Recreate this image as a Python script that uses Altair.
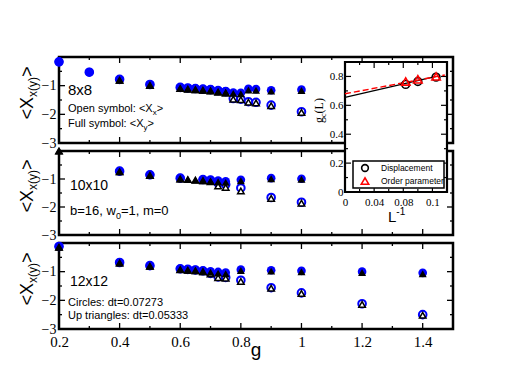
import altair as alt
import pandas as pd

# ---------------- data ----------------
# panel 1 : 8x8
P1_G_CIRC = [0.2, 0.3, 0.4, 0.5, 0.6, 0.625, 0.65, 0.675, 0.7, 0.725, 0.75, 0.775, 0.8, 0.825, 0.85, 0.9, 1.0]
P1_CIRC_FULL = [-0.17, -0.53, -0.78, -0.96, -1.06, -1.08, -1.10, -1.12, -1.14, -1.17, -1.19, -1.24, -1.25, -1.11, -1.12, -1.16, -1.14]
P1_CIRC_OPEN = [-0.17, -0.53, -0.78, -0.96, -1.06, -1.08, -1.10, -1.12, -1.14, -1.17, -1.21, -1.45, -1.47, -1.56, -1.58, -1.68, -1.91]
P1_G_TRI = [0.4, 0.5, 0.6, 0.625, 0.65, 0.675, 0.7, 0.725, 0.75, 0.775, 0.8, 0.825, 0.85, 0.9, 1.0]
P1_TRI_FULL = [-0.81, -0.99, -1.10, -1.12, -1.14, -1.16, -1.18, -1.21, -1.24, -1.27, -1.28, -1.15, -1.16, -1.19, -1.17]
P1_TRI_OPEN = [-0.81, -0.99, -1.10, -1.12, -1.14, -1.16, -1.18, -1.23, -1.26, -1.47, -1.49, -1.58, -1.60, -1.70, -1.93]
# panel 2 : 10x10
P2_G_CIRC = [0.4, 0.5, 0.6, 0.675, 0.7, 0.725, 0.75, 0.8, 0.9, 1.0]
P2_CIRC_FULL = [-0.72, -0.85, -0.97, -1.02, -1.04, -1.06, -1.08, -1.03, -0.97, -0.99]
P2_CIRC_OPEN = [-0.72, -0.85, -0.97, -1.02, -1.04, -1.15, -1.20, -1.32, -1.66, -1.83]
P2_G_TRI = [0.2, 0.4, 0.5, 0.6, 0.625, 0.65, 0.675, 0.7, 0.725, 0.75, 0.8, 0.9, 1.0]
P2_TRI_FULL = [0.0, -0.74, -0.87, -1.00, -1.02, -1.04, -1.06, -1.08, -1.10, -1.12, -1.06, -0.99, -1.01]
P2_TRI_OPEN = [0.0, -0.74, -0.87, -1.00, -1.02, -1.04, -1.06, -1.10, -1.25, -1.30, -1.43, -1.69, -1.86]
# panel 3 : 12x12
P3_G = [0.2, 0.4, 0.5, 0.6, 0.625, 0.65, 0.675, 0.7, 0.725, 0.75, 0.8, 0.9, 1.0, 1.2, 1.4]
P3_CIRC_FULL = [-0.12, -0.68, -0.79, -0.90, -0.92, -0.94, -0.97, -0.99, -1.01, -1.03, -0.93, -0.95, -0.97, -1.00, -1.04]
P3_CIRC_OPEN = [-0.12, -0.68, -0.79, -0.90, -0.92, -0.94, -0.97, -1.06, -1.18, -1.20, -1.30, -1.56, -1.74, -2.12, -2.50]
P3_TRI_FULL = [-0.15, -0.70, -0.81, -0.93, -0.95, -0.97, -1.00, -1.02, -1.05, -1.07, -0.96, -0.98, -1.00, -1.03, -1.07]
P3_TRI_OPEN = [-0.15, -0.70, -0.81, -0.93, -0.95, -0.97, -1.00, -1.08, -1.21, -1.23, -1.34, -1.58, -1.76, -2.14, -2.52]
# inset : g_c(L) versus 1/L
INV_L = [0.0833, 0.1, 0.125]
GC_DISP = [0.745, 0.765, 0.795]
GC_ORDER = [0.765, 0.78, 0.80]
FIT_DISP_X = [0.0, 0.125]
FIT_DISP_Y = [0.655, 0.80]
FIT_ORDER_X = [0.0, 0.137]
FIT_ORDER_Y = [0.68, 0.81]

# tick values
X_MAJOR = [0.2, 0.4, 0.6, 0.8, 1.0, 1.2, 1.4]
X_MINOR = [0.3, 0.5, 0.7, 0.9, 1.1, 1.3]
Y_MAJOR = [-3, -2, -1]
Y_MINOR = [-2.5, -1.5, -0.5]
IX_MAJOR = [0, 0.04, 0.08, 0.12]
IX_MINOR = [0.02, 0.06, 0.10]
IY_MAJOR = [0, 0.2, 0.4, 0.6, 0.8]
IY_MINOR = [0.1, 0.3, 0.5, 0.7]

# ---------------- layout / style ----------------
W, H = 394, 272
PANELS = [(0, 86), (94, 178), (186, 272)]
X_DOMAIN = [0.2, 1.5]
Y_DOMAIN = [-3, 0]
IL, IR, IT, IB = 286, 388, 5, 135
SANS = "Liberation Sans"
SERIF = "Liberation Serif"
BLUE = "#0000ff"
ONE = pd.DataFrame({"k": [0]})

HELV = {" ": 278, "(": 333, ")": 333, ",": 278, "-": 333, ".": 278, ":": 278, "<": 584, "=": 584,
        ">": 584, "C": 722, "F": 611, "L": 556, "O": 778, "U": 722, "X": 667, "a": 556, "b": 556,
        "c": 500, "d": 556, "e": 556, "g": 556, "i": 222, "l": 222, "m": 833, "n": 556, "o": 556,
        "p": 556, "r": 333, "s": 500, "t": 278, "u": 556, "w": 722, "x": 500, "y": 500}
TIMES = {"g": 500, "c": 444, "(": 333, ")": 333, "L": 611}


def width(text, size, font):
    table = TIMES if font == SERIF else HELV
    return sum(table.get(ch, 556) for ch in text) * size / 1000.0


def rich(pieces, x0, y0, font=SANS, angle=0):
    out = []
    pos = 0.0
    for text, size, shift in pieces:
        if angle == 0:
            x, y = x0 + pos, y0 + shift
        else:
            x, y = x0 + shift, y0 - pos
        out.append(alt.Chart(ONE).mark_text(text=text, font=font, fontSize=size, align="left",
                                            baseline="alphabetic", angle=angle, color="black")
                   .encode(x=alt.value(x), y=alt.value(y)))
        pos += width(text, size, font)
    return out


def xenc(field, show):
    scale = alt.Scale(domain=X_DOMAIN, nice=False, zero=False)
    if show:
        ax = alt.Axis(values=X_MAJOR, format="~g", orient="bottom", labelFont=SERIF, labelFontSize=15,
                      labelPadding=5, labelFlush=False, labelOverlap=False, ticks=False, tickSize=0,
                      domain=False, grid=False, title=None, labelColor="black")
        return alt.X(f"{field}:Q", scale=scale, axis=ax)
    return alt.X(f"{field}:Q", scale=scale, axis=None)


def yenc(field, top, bottom):
    scale = alt.Scale(domain=Y_DOMAIN, range=[bottom, top], nice=False, zero=False)
    ax = alt.Axis(values=Y_MAJOR, format="~g", orient="left", labelFont=SERIF, labelFontSize=14,
                  labelPadding=3, labelOverlap=False, ticks=False, tickSize=0, domain=False,
                  grid=False, title=None, labelColor="black")
    return alt.Y(f"{field}:Q", scale=scale, axis=ax)


STYLE = {
    "circ_open": dict(shape="circle", filled=True, fill="white", stroke=BLUE, strokeWidth=2, size=58),
    "circ_full": dict(shape="circle", filled=True, fill=BLUE, size=75),
    "tri_open": dict(shape="triangle-up", filled=True, fill="white", stroke="black", strokeWidth=1.5, size=42),
    "tri_full": dict(shape="triangle-up", filled=True, fill="black", size=64),
}


def panel(gc, cf, co, gt, tf, to, top, bottom, show_x):
    series = (("circ_open", gc, co), ("circ_full", gc, cf), ("tri_open", gt, to), ("tri_full", gt, tf))
    marks = []
    for name, gs, vs in series:
        df = pd.DataFrame({"g": gs, "v": vs})
        marks.append(alt.Chart(df).mark_point(opacity=1, **STYLE[name])
                     .encode(x=xenc("g", show_x), y=yenc("v", top, bottom)))
    frame = (alt.Chart(ONE).mark_rect(fill="white", fillOpacity=0, stroke="black", strokeWidth=2.5)
             .encode(x=alt.value(0), x2=alt.value(W), y=alt.value(top), y2=alt.value(bottom)))
    ticks = []
    for vals, ln in ((X_MAJOR, 6), (X_MINOR, 3)):
        b = alt.Chart(pd.DataFrame({"t": vals})).mark_rule(color="black", strokeWidth=1.3)
        ticks.append(b.encode(x=xenc("t", show_x), y=alt.value(bottom), y2=alt.value(bottom - ln)))
        ticks.append(b.encode(x=xenc("t", show_x), y=alt.value(top), y2=alt.value(top + ln)))
    for vals, ln in ((Y_MAJOR, 6), (Y_MINOR, 3)):
        b = alt.Chart(pd.DataFrame({"t": vals})).mark_rule(color="black", strokeWidth=1.3)
        ticks.append(b.encode(y=yenc("t", top, bottom), x=alt.value(0), x2=alt.value(ln)))
        ticks.append(b.encode(y=yenc("t", top, bottom), x=alt.value(W), x2=alt.value(W - ln)))
    return alt.layer(frame, *ticks, *marks)


p1 = panel(P1_G_CIRC, P1_CIRC_FULL, P1_CIRC_OPEN, P1_G_TRI, P1_TRI_FULL, P1_TRI_OPEN, *PANELS[0], False)
p2 = panel(P2_G_CIRC, P2_CIRC_FULL, P2_CIRC_OPEN, P2_G_TRI, P2_TRI_FULL, P2_TRI_OPEN, *PANELS[1], False)
p3 = panel(P3_G, P3_CIRC_FULL, P3_CIRC_OPEN, P3_G, P3_TRI_FULL, P3_TRI_OPEN, *PANELS[2], True)


# ---------------- inset ----------------
def ix(field):
    scale = alt.Scale(domain=[0, 0.14], range=[IL, IR], nice=False, zero=False)
    ax = alt.Axis(values=IX_MAJOR, format="~g", orient="bottom", offset=-(H - IB), labelFont=SERIF,
                  labelFontSize=11, labelPadding=4, labelFlush=False, labelOverlap=False,
                  labelBound=False, ticks=False, tickSize=0, domain=False, grid=False, title=None,
                  labelColor="black")
    return alt.X(f"{field}:Q", scale=scale, axis=ax)


def iy(field):
    scale = alt.Scale(domain=[0, 0.9], range=[IB, IT], nice=False, zero=False)
    ax = alt.Axis(values=IY_MAJOR, format="~g", orient="left", offset=-IL, labelFont=SERIF,
                  labelFontSize=11, labelPadding=2, labelOverlap=False, ticks=False, tickSize=0,
                  domain=False, grid=False, title=None, labelColor="black")
    return alt.Y(f"{field}:Q", scale=scale, axis=ax)


inset_layers = [alt.Chart(ONE).mark_rect(fill="white", stroke="black", strokeWidth=2.2)
                .encode(x=alt.value(IL), x2=alt.value(IR), y=alt.value(IT), y2=alt.value(IB))]
for vals, ln in ((IX_MAJOR, 6), (IX_MINOR, 3)):
    b = alt.Chart(pd.DataFrame({"t": vals})).mark_rule(color="black", strokeWidth=1.2)
    inset_layers.append(b.encode(x=ix("t"), y=alt.value(IB), y2=alt.value(IB - ln)))
    inset_layers.append(b.encode(x=ix("t"), y=alt.value(IT), y2=alt.value(IT + ln)))
for vals, ln in ((IY_MAJOR, 6), (IY_MINOR, 3)):
    b = alt.Chart(pd.DataFrame({"t": vals})).mark_rule(color="black", strokeWidth=1.2)
    inset_layers.append(b.encode(y=iy("t"), x=alt.value(IL), x2=alt.value(IL + ln)))
    inset_layers.append(b.encode(y=iy("t"), x=alt.value(IR), x2=alt.value(IR - ln)))

inset_layers.append(alt.Chart(pd.DataFrame({"lx": FIT_DISP_X, "gy": FIT_DISP_Y}))
                    .mark_line(color="black", strokeWidth=1.2)
                    .encode(x=ix("lx"), y=iy("gy")))
inset_layers.append(alt.Chart(pd.DataFrame({"lx": FIT_ORDER_X, "gy": FIT_ORDER_Y}))
                    .mark_line(color="red", strokeWidth=1.4, strokeDash=[6, 3])
                    .encode(x=ix("lx"), y=iy("gy")))
inset_layers.append(alt.Chart(pd.DataFrame({"lx": INV_L, "gy": GC_DISP}))
                    .mark_point(shape="circle", filled=False, stroke="black", strokeWidth=1.6, size=60, opacity=1)
                    .encode(x=ix("lx"), y=iy("gy")))
inset_layers.append(alt.Chart(pd.DataFrame({"lx": INV_L, "gy": GC_ORDER}))
                    .mark_point(shape="triangle-up", filled=False, stroke="red", strokeWidth=1.6, size=70, opacity=1)
                    .encode(x=ix("lx"), y=iy("gy")))

# inset legend
inset_layers.append(alt.Chart(ONE).mark_rect(fill="white", stroke="black", strokeWidth=1.5)
                    .encode(x=alt.value(294), x2=alt.value(385), y=alt.value(104), y2=alt.value(131)))
inset_layers.append(alt.Chart(ONE).mark_point(shape="circle", filled=False, stroke="black", strokeWidth=1.6, size=45, opacity=1)
                    .encode(x=alt.value(306), y=alt.value(111)))
inset_layers.append(alt.Chart(ONE).mark_point(shape="triangle-up", filled=False, stroke="red", strokeWidth=1.6, size=55, opacity=1)
                    .encode(x=alt.value(306), y=alt.value(124)))
inset_layers.append(alt.Chart(ONE).mark_text(text="Displacement", font=SANS, fontSize=8.5, align="left", baseline="middle", color="black")
                    .encode(x=alt.value(322), y=alt.value(111)))
inset_layers.append(alt.Chart(ONE).mark_text(text="Order parameter", font=SANS, fontSize=8.5, align="left", baseline="middle", color="black")
                    .encode(x=alt.value(322), y=alt.value(124)))
inset = alt.layer(*inset_layers)

# ---------------- texts ----------------
texts = []
for top, bottom in PANELS:
    pieces = [("<X", 18, 0), ("x(y)", 12, 4), (">", 18, 0)]
    total = sum(width(t, s, SANS) for t, s, _ in pieces)
    center = (top + bottom) / 2 - 7
    texts += rich(pieces, -26, center + total / 2, SANS, 270)

texts += rich([("8x8", 15, 0)], 9, 37.5)
texts += rich([("Open symbol: <X", 11, 0), ("x", 8, 3), (">", 11, 0)], 9, 55)
texts += rich([("Full symbol: <X", 11, 0), ("y", 8, 3), (">", 11, 0)], 9, 70)
texts += rich([("10x10", 14, 0)], 11, 133)
texts += rich([("b=16, w", 13, 0), ("0", 9, 4), ("=1, m=0", 13, 0)], 11, 158)
texts += rich([("12x12", 14, 0)], 11, 229)
texts += rich([("Circles: dt=0.07273", 11, 0)], 9, 249)
texts += rich([("Up triangles: dt=0.05333", 11, 0)], 9, 262)
texts += rich([("g", 19, 0)], 197 - width("g", 19, SANS) / 2, 299)
texts += rich([("g", 12, 0), ("c", 8, 3), ("(L)", 12, 0)], 264, 66, SERIF, 270)
texts += rich([("L", 15, 0), ("-1", 10, -7)], 329, 165)

chart = (
    alt.layer(p1, p2, p3, inset, *texts)
    .resolve_scale(x="independent", y="independent")
    .properties(width=W, height=H,
                padding={"left": 51, "top": 49, "right": 45, "bottom": 45},
                autosize=alt.AutoSizeParams(type="none"))
    .configure_view(strokeOpacity=0)
)

chart.save("out.html", embed_options={"renderer": "svg", "actions": False})
